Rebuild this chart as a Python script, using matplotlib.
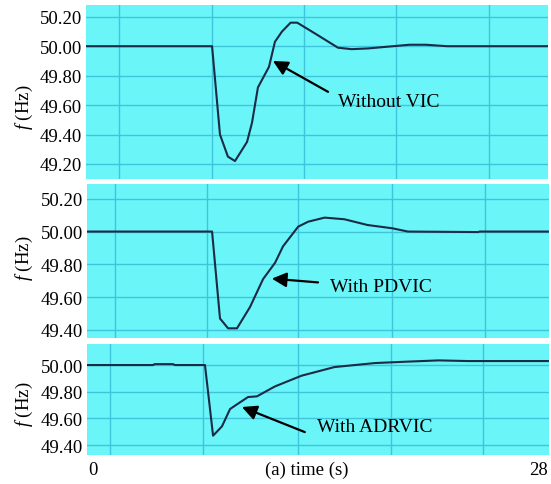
import matplotlib
matplotlib.use('Agg')
import matplotlib.pyplot as plt

plt.rcParams['font.family'] = ['Liberation Serif', 'DejaVu Serif']
plt.rcParams['mathtext.fontset'] = 'custom'
plt.rcParams['mathtext.rm'] = 'Liberation Serif'
plt.rcParams['mathtext.it'] = 'Liberation Serif:italic'

# ---- data (time in s, frequency in Hz) ----
t_novic = [0, 7.64, 8.12, 8.6, 9.03, 9.76, 10.06, 10.42, 11.09, 11.45, 11.88,
           12.4, 12.8, 13.9, 15.27, 16.1, 17.1, 18.1, 19.6, 20.6, 21.9, 28]
f_novic = [50.00, 50.00, 49.40, 49.25, 49.22, 49.35, 49.48, 49.72, 49.86, 50.03, 50.10,
           50.16, 50.16, 50.085, 49.99, 49.98, 49.985, 49.995, 50.01, 50.01, 50.00, 50.00]

t_pdvic = [0, 7.58, 8.06, 8.55, 9.09, 9.88, 10.67, 11.4, 11.88, 12.8, 13.4,
           14.4, 15.6, 17.0, 18.5, 19.45, 23.7, 23.8, 28]
f_pdvic = [50.00, 50.00, 49.47, 49.41, 49.41, 49.54, 49.71, 49.81, 49.91, 50.03, 50.06,
           50.085, 50.075, 50.04, 50.02, 50.00, 49.997, 50.00, 50.00]

t_adrvic = [0, 4.0, 4.1, 5.2, 5.33, 7.15, 7.64, 8.18, 8.67, 9.27, 9.76, 10.3,
            11.1, 11.4, 13.0, 15.0, 17.45, 19.3, 21.3, 23.1, 28]
f_adrvic = [50.00, 50.00, 50.007, 50.007, 50.00, 50.00, 49.47, 49.54, 49.67, 49.72, 49.76, 49.765,
            49.82, 49.84, 49.92, 49.985, 50.015, 50.025, 50.035, 50.03, 50.03]

yticks_top = [49.20, 49.40, 49.60, 49.80, 50.00, 50.20]
yticks_mid = [49.40, 49.60, 49.80, 50.00, 50.20]
yticks_bot = [49.40, 49.60, 49.80, 50.00]
labels = ['Without VIC', 'With PDVIC', 'With ADRVIC']

bg = '#6AF5F9'
grid_c = '#3FC4DB'
line_c = '#1B2A45'

fig = plt.figure(figsize=(5.51, 4.85), dpi=100)
W, H = 551, 485

def add_panel(l, r, top, bot):
    return fig.add_axes([l / W, (H - bot) / H, (r - l) / W, (bot - top) / H])

panels = [
    dict(box=(86, 548, 6, 180), t=t_novic, f=f_novic, yt=yticks_top, ylim=(49.098, 50.28),
         vgrid=[2.0, 7.64, 13.2, 18.8, 24.4], tip=(11.33, 49.90), tail=(14.67, 49.69),
         txt=(15.27, 49.626), ylab=107),
    dict(box=(87, 549, 185, 339), t=t_pdvic, f=f_pdvic, yt=yticks_mid, ylim=(49.351, 50.29),
         vgrid=[1.7, 7.27, 12.8, 18.5, 24.1], tip=(11.2, 49.713), tail=(14.0, 49.69),
         txt=(14.73, 49.664), ylab=258),
    dict(box=(87, 549, 345, 456), t=t_adrvic, f=f_adrvic, yt=yticks_bot, ylim=(49.325, 50.158),
         vgrid=[1.4, 7.03, 12.8, 18.4, 24.0], tip=(9.39, 49.685), tail=(13.2, 49.497),
         txt=(13.94, 49.54), ylab=404),
]

for p, lab in zip(panels, labels):
    ax = add_panel(*p['box'])
    ax.set_facecolor(bg)
    ax.set_xlim(0, 28)
    ax.set_ylim(*p['ylim'])
    ax.set_xticks(p['vgrid'])
    ax.set_xticklabels([])
    ax.set_yticks(p['yt'])
    ax.set_yticklabels(['%.2f' % v for v in p['yt']], fontsize=13.5)
    ax.tick_params(length=0, pad=3)
    ax.grid(True, color=grid_c, lw=1.0)
    ax.set_axisbelow(True)
    for s in ax.spines.values():
        s.set_visible(False)
    ax.plot(p['t'], p['f'], color=line_c, lw=1.5)
    ax.annotate('', xy=p['tip'], xytext=p['tail'],
                arrowprops=dict(arrowstyle='-|>', color='black', lw=1.6,
                                mutation_scale=22, shrinkA=0, shrinkB=0))
    ax.text(p['txt'][0], p['txt'][1], lab, fontsize=14, va='center', ha='left')
    fig.text(24 / W, (H - p['ylab']) / H, r'$f$ (Hz)', rotation=90,
             ha='center', va='center', fontsize=13.5)

fig.text(93 / W, (H - 471) / H, '0', ha='center', va='center', fontsize=13.5)
fig.text(307 / W, (H - 470) / H, '(a) time (s)', ha='center', va='center', fontsize=13.5)
fig.text(538 / W, (H - 471) / H, '28', ha='center', va='center', fontsize=13.5)

fig.savefig('out.png', dpi=100)
